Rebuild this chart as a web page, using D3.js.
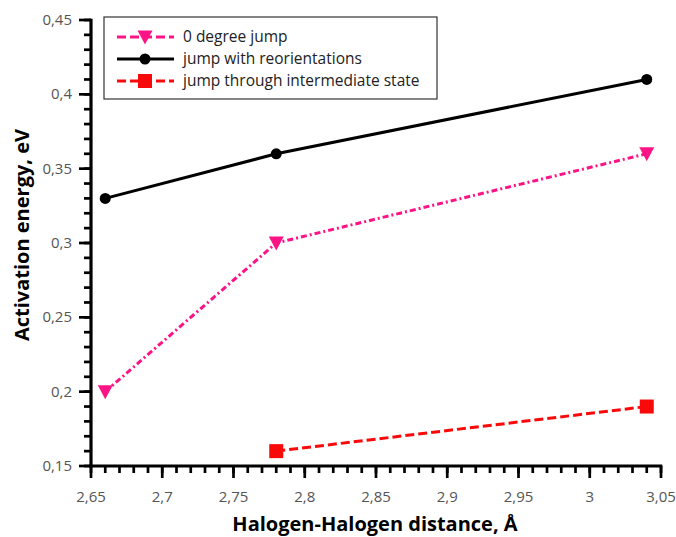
<!DOCTYPE html>
<html>
<head>
<meta charset="utf-8">
<script src="https://cdn.jsdelivr.net/npm/d3@7"></script>
<style>
  body { margin: 0; background: #fff; }
  svg { display: block; font-family: "Open Sans", sans-serif; }
</style>
</head>
<body>
<div class="graphic"></div>
<script>
// series
const distance = [2.66, 2.78, 3.04];
const zeroJump = [0.20, 0.30, 0.36];
const reorientJump = [0.33, 0.36, 0.41];
const interDistance = [2.78, 3.04];
const interJump = [0.16, 0.19];

const xTicks = [2.65, 2.7, 2.75, 2.8, 2.85, 2.9, 2.95, 3, 3.05];
const yTicks = [0.15, 0.2, 0.25, 0.3, 0.35, 0.4, 0.45];
const legendNames = ["0 degree jump", "jump with reorientations", "jump through intermediate state"];

const W = 676, H = 537;
const svg = d3.select(".graphic")
  .append("svg")
  .attr("width", W)
  .attr("height", H);

const xScale = d3.scaleLinear().domain([2.65, 3.05]).range([91, 661]);
const yScale = d3.scaleLinear().domain([0.15, 0.45]).range([466, 20]);

const fmt = d => String(d).replace(".", ",");

// minor ticks every 0.01
const xMinor = d3.range(265, 306).map(v => v / 100);
const yMinor = d3.range(15, 46).map(v => v / 100);

const x0 = xScale.range()[0], y0 = yScale.range()[0];
const axes = svg.append("g").attr("stroke", "#000");

// x ticks (outward, down)
axes.selectAll(".xminor").data(xMinor).join("line")
  .attr("x1", d => xScale(d)).attr("x2", d => xScale(d))
  .attr("y1", y0).attr("y2", y0 + 7).attr("stroke-width", 2.7);
axes.selectAll(".xmajor").data(xTicks).join("line")
  .attr("x1", d => xScale(d)).attr("x2", d => xScale(d))
  .attr("y1", y0).attr("y2", y0 + 12).attr("stroke-width", 2.7);

// y ticks (outward, left)
axes.selectAll(".yminor").data(yMinor).join("line")
  .attr("y1", d => yScale(d)).attr("y2", d => yScale(d))
  .attr("x1", x0).attr("x2", x0 - 7).attr("stroke-width", 2.7);
axes.selectAll(".ymajor").data(yTicks).join("line")
  .attr("y1", d => yScale(d)).attr("y2", d => yScale(d))
  .attr("x1", x0).attr("x2", x0 - 12).attr("stroke-width", 2.7);

// axis lines
axes.append("line")
  .attr("x1", x0 - 1.6).attr("x2", xScale(3.05) + 1.3)
  .attr("y1", y0).attr("y2", y0).attr("stroke-width", 3.2);
axes.append("line")
  .attr("x1", x0).attr("x2", x0)
  .attr("y1", yScale(0.45) - 1.3).attr("y2", y0 + 1.6).attr("stroke-width", 3.2);

// tick labels
svg.append("g").selectAll("text").data(xTicks).join("text")
  .text(fmt)
  .attr("x", d => xScale(d)).attr("y", y0 + 36)
  .attr("text-anchor", "middle")
  .attr("font-size", 15).attr("fill", "#555");

svg.append("g").selectAll("text").data(yTicks).join("text")
  .text(fmt)
  .attr("x", x0 - 19).attr("y", d => yScale(d) + 5)
  .attr("text-anchor", "end")
  .attr("font-size", 15).attr("fill", "#555");

// axis titles
svg.append("text")
  .text("Halogen-Halogen distance, Å")
  .attr("x", 375).attr("y", 531)
  .attr("text-anchor", "middle")
  .attr("font-size", 20).attr("font-weight", "bold");

svg.append("text")
  .text("Activation energy, eV")
  .attr("transform", `translate(29,235) rotate(-90)`)
  .attr("text-anchor", "middle")
  .attr("font-size", 20).attr("font-weight", "bold");

const pink = "#fc1486", red = "#f80a0a";

const line = d3.line().x(d => xScale(d[0])).y(d => yScale(d[1]));

const series = [
  { pts: d3.zip(distance, zeroJump), color: pink, dash: "6,3,2,3", marker: "tri" },
  { pts: d3.zip(distance, reorientJump), color: "#000", dash: null, marker: "circle" },
  { pts: d3.zip(interDistance, interJump), color: red, dash: "9,4", marker: "square" }
];

const drawMarker = (g, type, color, x, y) => {
  if (type === "tri") {
    g.append("path")
      .attr("d", `M${x - 7.5},${y - 6.5} L${x + 7.5},${y - 6.5} L${x},${y + 7.5} Z`)
      .attr("fill", color);
  } else if (type === "circle") {
    g.append("circle").attr("cx", x).attr("cy", y).attr("r", 5.5).attr("fill", color);
  } else {
    g.append("rect").attr("x", x - 7).attr("y", y - 7).attr("width", 14).attr("height", 14).attr("fill", color);
  }
};

series.forEach(s => {
  svg.append("path")
    .attr("d", line(s.pts))
    .attr("fill", "none")
    .attr("stroke", s.color)
    .attr("stroke-width", 3)
    .attr("stroke-dasharray", s.dash);
  const mg = svg.append("g");
  s.pts.forEach(p => drawMarker(mg, s.marker, s.color, xScale(p[0]), yScale(p[1])));
});

// legend
const legend = svg.append("g");
legend.append("rect")
  .attr("x", 104).attr("y", 17).attr("width", 333).attr("height", 82)
  .attr("fill", "#fff").attr("stroke", "#333").attr("stroke-width", 1.2);

series.forEach((s, i) => {
  const y = 37 + i * 22;
  legend.append("line")
    .attr("x1", 117).attr("x2", 174).attr("y1", y).attr("y2", y)
    .attr("stroke", s.color).attr("stroke-width", 3)
    .attr("stroke-dasharray", s.dash ? "9,4" : null);
  drawMarker(legend, s.marker, s.color, 145, y);
  legend.append("text")
    .text(legendNames[i])
    .attr("x", 183).attr("y", y + 5)
    .attr("font-size", 15.5).attr("fill", "#222");
});
</script>
</body>
</html>
